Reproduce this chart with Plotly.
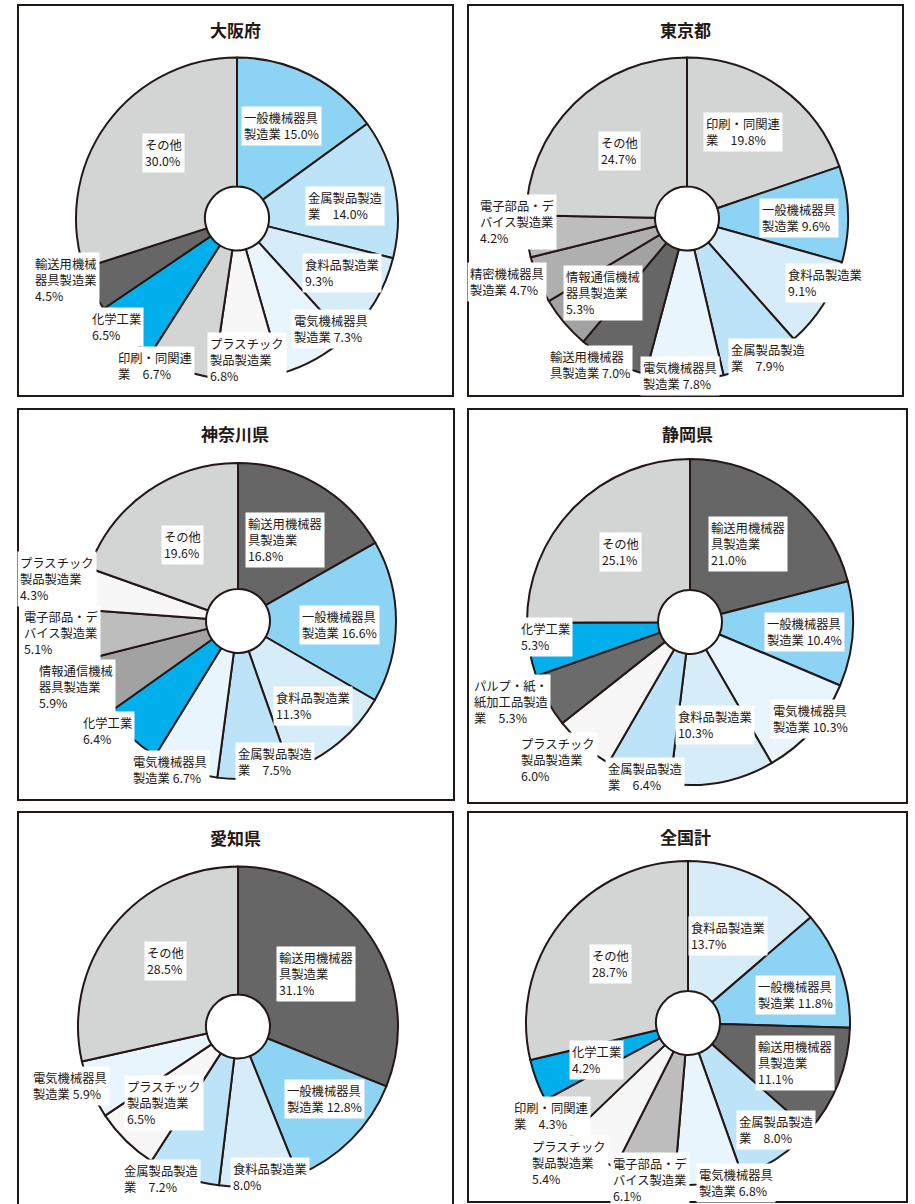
import plotly.graph_objects as go

W, H = 915, 1204

# ---------------- data ----------------
osaka_cats = ["一般機械器具製造業", "金属製品製造業", "食料品製造業", "電気機械器具製造業",
              "プラスチック製品製造業", "印刷・同関連業", "化学工業", "輸送用機械器具製造業", "その他"]
osaka_vals = [15.0, 14.0, 9.3, 7.3, 6.8, 6.7, 6.5, 4.5, 30.0]
osaka_text = ["一般機械器具<br>製造業 {v}", "金属製品製造<br>業　{v}", "食料品製造業<br>{v}",
              "電気機械器具<br>製造業 {v}", "プラスチック<br>製品製造業<br>{v}", "印刷・同関連<br>業　{v}",
              "化学工業<br>{v}", "輸送用機械<br>器具製造業<br>{v}", "その他<br>{v}"]

tokyo_cats = ["印刷・同関連業", "一般機械器具製造業", "食料品製造業", "金属製品製造業",
              "電気機械器具製造業", "輸送用機械器具製造業", "情報通信機械器具製造業",
              "精密機械器具製造業", "電子部品・デバイス製造業", "その他"]
tokyo_vals = [19.8, 9.6, 9.1, 7.9, 7.8, 7.0, 5.3, 4.7, 4.2, 24.7]
tokyo_text = ["印刷・同関連<br>業　{v}", "一般機械器具<br>製造業 {v}", "食料品製造業<br>{v}",
              "金属製品製造<br>業　{v}", "電気機械器具<br>製造業 {v}", "輸送用機械器<br>具製造業 {v}",
              "情報通信機械<br>器具製造業<br>{v}", "精密機械器具<br>製造業 {v}",
              "電子部品・デ<br>バイス製造業<br>{v}", "その他<br>{v}"]

kanagawa_cats = ["輸送用機械器具製造業", "一般機械器具製造業", "食料品製造業", "金属製品製造業",
                 "電気機械器具製造業", "化学工業", "情報通信機械器具製造業",
                 "電子部品・デバイス製造業", "プラスチック製品製造業", "その他"]
kanagawa_vals = [16.8, 16.6, 11.3, 7.5, 6.7, 6.4, 5.9, 5.1, 4.3, 19.6]
kanagawa_text = ["輸送用機械器<br>具製造業<br>{v}", "一般機械器具<br>製造業 {v}", "食料品製造業<br>{v}",
                 "金属製品製造<br>業　{v}", "電気機械器具<br>製造業 {v}", "化学工業<br>{v}",
                 "情報通信機械<br>器具製造業<br>{v}", "電子部品・デ<br>バイス製造業<br>{v}",
                 "プラスチック<br>製品製造業<br>{v}", "その他<br>{v}"]

shizuoka_cats = ["輸送用機械器具製造業", "一般機械器具製造業", "電気機械器具製造業", "食料品製造業",
                 "金属製品製造業", "プラスチック製品製造業", "パルプ・紙・紙加工品製造業",
                 "化学工業", "その他"]
shizuoka_vals = [21.0, 10.4, 10.3, 10.3, 6.4, 6.0, 5.3, 5.3, 25.1]
shizuoka_text = ["輸送用機械器<br>具製造業<br>{v}", "一般機械器具<br>製造業 {v}", "電気機械器具<br>製造業 {v}",
                 "食料品製造業<br>{v}", "金属製品製造<br>業　{v}", "プラスチック<br>製品製造業<br>{v}",
                 "パルプ・紙・<br>紙加工品製造<br>業　{v}", "化学工業<br>{v}", "その他<br>{v}"]

aichi_cats = ["輸送用機械器具製造業", "一般機械器具製造業", "食料品製造業", "金属製品製造業",
              "プラスチック製品製造業", "電気機械器具製造業", "その他"]
aichi_vals = [31.1, 12.8, 8.0, 7.2, 6.5, 5.9, 28.5]
aichi_text = ["輸送用機械器<br>具製造業<br>{v}", "一般機械器具<br>製造業 {v}", "食料品製造業<br>{v}",
              "金属製品製造<br>業　{v}", "プラスチック<br>製品製造業<br>{v}", "電気機械器具<br>製造業 {v}",
              "その他<br>{v}"]

zenkoku_cats = ["食料品製造業", "一般機械器具製造業", "輸送用機械器具製造業", "金属製品製造業",
                "電気機械器具製造業", "電子部品・デバイス製造業", "プラスチック製品製造業",
                "印刷・同関連業", "化学工業", "その他"]
zenkoku_vals = [13.7, 11.8, 11.1, 8.0, 6.8, 6.1, 5.4, 4.3, 4.2, 28.7]
zenkoku_text = ["食料品製造業<br>{v}", "一般機械器具<br>製造業 {v}", "輸送用機械器<br>具製造業<br>{v}",
                "金属製品製造<br>業　{v}", "電気機械器具<br>製造業 {v}", "電子部品・デ<br>バイス製造業<br>{v}",
                "プラスチック<br>製品製造業<br>{v}", "印刷・同関連<br>業　{v}", "化学工業<br>{v}",
                "その他<br>{v}"]

titles = ["大阪府", "東京都", "神奈川県", "静岡県", "愛知県", "全国計"]

# ---------------- styles / layout ----------------
COLORS = {
    "一般機械器具製造業": "#8dd3f4",
    "金属製品製造業": "#bde3f8",
    "食料品製造業": "#d6ecf9",
    "電気機械器具製造業": "#e9f5fd",
    "プラスチック製品製造業": "#f7f7f7",
    "印刷・同関連業": "#d3d4d4",
    "化学工業": "#00afec",
    "輸送用機械器具製造業": "#666666",
    "その他": "#d3d4d4",
    "情報通信機械器具製造業": "#a2a2a2",
    "精密機械器具製造業": "#afafaf",
    "電子部品・デバイス製造業": "#bdbdbd",
    "パルプ・紙・紙加工品製造業": "#6b6b6b",
}
INK = "#231815"
FONT = "Noto Sans CJK JP"

# pie geometry in pixels: (center x, center y, radius)
GEOM = [(237, 218.5, 161), (687, 218.5, 161), (238, 621, 158),
        (690, 622, 163), (238, 1026.5, 160), (688, 1023, 162)]
# panel boxes in pixels: (left, top, right, bottom)
BOXES = [(18, 5, 453, 396), (468, 5, 903, 396), (18, 409, 454, 800),
         (468, 409, 907, 803), (18, 812, 453, 1215), (468, 812, 907, 1202)]
TITLE_POS = [(235, 30), (685, 30), (235, 434), (687, 434), (235, 837), (685, 836)]

# label offsets from pie centre, in pixels
LABEL_OFF = [
    [(44, -92), (108, -12), (105, 55), (94, 110), (10, 141), (-82, 147), (-121, 108), (-171, 61), (-74, -66)],
    [(56, -86), (112, -1), (138, 65), (81, 139), (-7, 158), (-97, 146), (-84, 75), (-180, 64), (-170, 4), (-68, -68)],
    [(47, -81), (101, 4), (75, 85), (37, 141), (-68, 149), (-131, 110), (-162, 66), (-177, 12), (-181, -42), (-56, -76)],
    [(58, -78), (114, 10), (120, 97), (25, 103), (-45, 155), (-132, 138), (-179, 80), (-145, 15), (-70, -70)],
    [(78, -53), (86, 72), (32, 150), (-77, 152), (-74, 76), (-168, 59), (-73, -66)],
    [(40, -87), (107, -28), (107, 40), (88, 107), (48, 160), (-38, 157), (-119, 140), (-137, 93), (-92, 37), (-78, -59)],
]

charts = [
    (osaka_cats, osaka_vals, osaka_text),
    (tokyo_cats, tokyo_vals, tokyo_text),
    (kanagawa_cats, kanagawa_vals, kanagawa_text),
    (shizuoka_cats, shizuoka_vals, shizuoka_text),
    (aichi_cats, aichi_vals, aichi_text),
    (zenkoku_cats, zenkoku_vals, zenkoku_text),
]


def px(x):
    return x / W


def py(y):
    return 1 - y / H


fig = go.Figure()
annotations = []
shapes = []

for i, (cats, vals, texts) in enumerate(charts):
    cx, cy, r = GEOM[i]
    fig.add_trace(go.Pie(
        labels=cats, values=vals, sort=False, direction="clockwise", rotation=0,
        hole=32 / r, textinfo="none", showlegend=False,
        marker=dict(colors=[COLORS[c] for c in cats], line=dict(color=INK, width=2)),
        domain=dict(x=[px(cx - r), px(cx + r)], y=[py(cy + r), py(cy - r)]),
        hovertemplate="%{label}: %{value}%<extra></extra>",
    ))
    for t, v, (dx, dy) in zip(texts, vals, LABEL_OFF[i]):
        annotations.append(dict(
            x=px(cx + dx), y=py(cy + dy), xref="paper", yref="paper",
            text=t.format(v=f"{v:.1f}%"), showarrow=False, align="left",
            xanchor="center", yanchor="middle", bgcolor="white", borderpad=2,
            font=dict(family=FONT, size=12.3, color=INK),
        ))
    tx, ty = TITLE_POS[i]
    annotations.append(dict(
        x=px(tx), y=py(ty), xref="paper", yref="paper", text=titles[i],
        showarrow=False, xanchor="center", yanchor="middle",
        font=dict(family=FONT, size=17, color=INK, weight="bold"),
    ))
    l, t_, rr, b = BOXES[i]
    shapes.append(dict(type="rect", xref="paper", yref="paper",
                       x0=px(l), x1=px(rr), y0=py(b), y1=py(t_),
                       line=dict(color=INK, width=2), fillcolor="rgba(0,0,0,0)",
                       layer="below"))

fig.update_layout(
    width=W, height=H, autosize=False,
    margin=dict(l=0, r=0, t=0, b=0),
    paper_bgcolor="white", plot_bgcolor="white",
    annotations=annotations, shapes=shapes,
    font=dict(family=FONT, color=INK),
)

fig.write_html(
    "out.html",
    config={"displayModeBar": False},
    post_script="document.body.style.margin='0';document.body.style.padding='0';"
                "document.body.style.overflow='hidden';",
)
